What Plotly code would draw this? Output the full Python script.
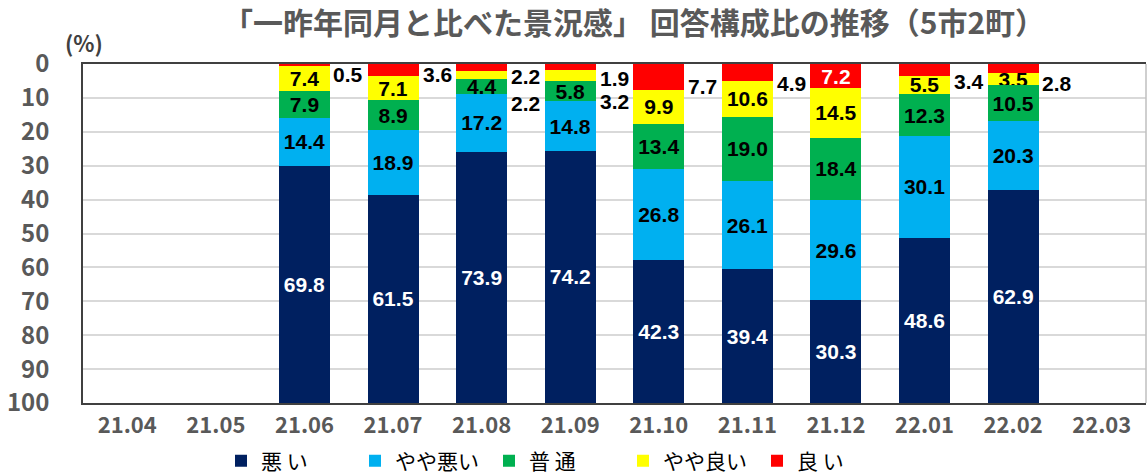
import plotly.graph_objects as go

# ---------------- data ----------------
months = ["21.04", "21.05", "21.06", "21.07", "21.08", "21.09",
          "21.10", "21.11", "21.12", "22.01", "22.02", "22.03"]
bad = [None, None, 69.8, 61.5, 73.9, 74.2, 42.3, 39.4, 30.3, 48.6, 62.9, None]
slightly_bad = [None, None, 14.4, 18.9, 17.2, 14.8, 26.8, 26.1, 29.6, 30.1, 20.3, None]
normal = [None, None, 7.9, 8.9, 4.4, 5.8, 13.4, 19.0, 18.4, 12.3, 10.5, None]
slightly_good = [None, None, 7.4, 7.1, 2.2, 3.2, 9.9, 10.6, 14.5, 5.5, 3.5, None]
good = [None, None, 0.5, 3.6, 2.2, 1.9, 7.7, 4.9, 7.2, 3.4, 2.8, None]

series_names = ["良 い", "やや良い", "普 通", "やや悪い", "悪 い"]
y_ticks = [0, 10, 20, 30, 40, 50, 60, 70, 80, 90, 100]

# ---------------- styling / placement ----------------
colors = {"良 い": "#FF0000", "やや良い": "#FFFF00", "普 通": "#00B050",
          "やや悪い": "#00B0F0", "悪 い": "#002060"}
text_colors = {"良 い": "white", "やや良い": "black", "普 通": "black",
               "やや悪い": "black", "悪 い": "white"}
# labels drawn beside the bar instead of inside: (month, series, label y on axis)
outside_labels = [("21.06", "良 い", 3.2), ("21.07", "良 い", 3.2),
                  ("21.08", "良 い", 3.7), ("21.08", "やや良い", 11.7),
                  ("21.09", "良 い", 4.3), ("21.09", "やや良い", 11.1),
                  ("21.10", "良 い", 6.6), ("21.11", "良 い", 5.8),
                  ("22.01", "良 い", 5.2), ("22.02", "良 い", 5.8)]

values = {"良 い": good, "やや良い": slightly_good, "普 通": normal,
          "やや悪い": slightly_bad, "悪 い": bad}

label_font = dict(family="Liberation Sans, Arial, sans-serif", size=21, weight="bold")
axis_font = dict(family="Noto Sans CJK JP", size=22, color="#595959", weight="bold")

outside_set = {(m, s) for m, s, _ in outside_labels}

fig = go.Figure()
for name in series_names:
    vals = values[name]
    texts = []
    for m, v in zip(months, vals):
        if v is None or (m, name) in outside_set:
            texts.append("")
        else:
            texts.append(f"{v:.1f}")
    fig.add_trace(go.Bar(
        x=months, y=vals, name=name,
        marker=dict(color=colors[name], line=dict(width=0)),
        text=texts, texttemplate="%{text}",
        textposition="inside", insidetextanchor="middle",
        textangle=0, constraintext="none",
        textfont=dict(color=text_colors[name], **label_font),
        hoverinfo="skip",
    ))

plot_left, plot_right, plot_top, plot_bottom = 83, 1146, 64, 403
pw, ph = plot_right - plot_left, plot_bottom - plot_top

annotations = []
for m, s, ypos in outside_labels:
    v = values[s][months.index(m)]
    annotations.append(dict(
        x=months.index(m), y=ypos, xref="x", yref="y", text=f"{v:.1f}", showarrow=False,
        xshift=44, xanchor="center", yanchor="middle",
        font=dict(color="black", **label_font)))

annotations.append(dict(
    x=(84 - plot_left) / pw, y=(plot_bottom - 42) / ph, xref="paper", yref="paper",
    text="(%)", showarrow=False, xanchor="center", yanchor="middle",
    font=dict(family="Noto Sans CJK JP", size=22, color="#404040", weight="bold")))

fig.update_layout(
    width=1147, height=475,
    margin=dict(l=plot_left, r=1147 - plot_right, t=plot_top, b=475 - plot_bottom,
                autoexpand=False),
    paper_bgcolor="white", plot_bgcolor="white",
    barmode="stack", bargap=0.425,
    uniformtext=dict(minsize=21, mode="show"),
    title=dict(
        text="「一昨年同月と比べた景況感」 回答構成比の推移（5市2町）",
        x=634 / 1147, xref="container", xanchor="center",
        y=1 - 23 / 475, yref="container", yanchor="middle",
        font=dict(family="Noto Sans CJK JP", size=30, color="#595959", weight="bold")),
    xaxis=dict(
        type="category", categoryorder="array", categoryarray=months,
        range=[-0.5, len(months) - 0.5], autorange=False,
        showline=True, linecolor="#404040", linewidth=1.5, mirror=True,
        showgrid=False, ticks="", ticklabelstandoff=2, tickangle=0,
        tickfont=axis_font),
    yaxis=dict(
        range=[100, 0], autorange=False, tickvals=y_ticks, ticktext=[str(t) for t in y_ticks],
        showline=True, linecolor="#404040", linewidth=1.5, mirror=False,
        showgrid=True, gridcolor="#D9D9D9", gridwidth=1.5,
        zeroline=False, ticks="", ticklabelstandoff=27,
        tickfont=dict(family="Noto Sans CJK JP", size=24, color="#595959", weight="bold")),
    legend=dict(
        orientation="h", traceorder="reversed",
        x=(221 - plot_left) / pw, xanchor="left",
        y=(plot_bottom - 461) / ph, yanchor="middle",
        entrywidth=89, entrywidthmode="pixels",
        font=dict(family="Noto Sans CJK JP", size=21, color="black"),
        bgcolor="rgba(0,0,0,0)"),
    annotations=annotations,
    shapes=[dict(type="line", xref="paper", yref="paper", x0=1, x1=1, y0=0, y1=1,
                 line=dict(color="#BFBFBF", width=1.5))],
    showlegend=True,
)

fig.write_html("out.html", config={"displayModeBar": False},
               post_script="document.body.style.margin='0';document.body.style.overflow='hidden';")
